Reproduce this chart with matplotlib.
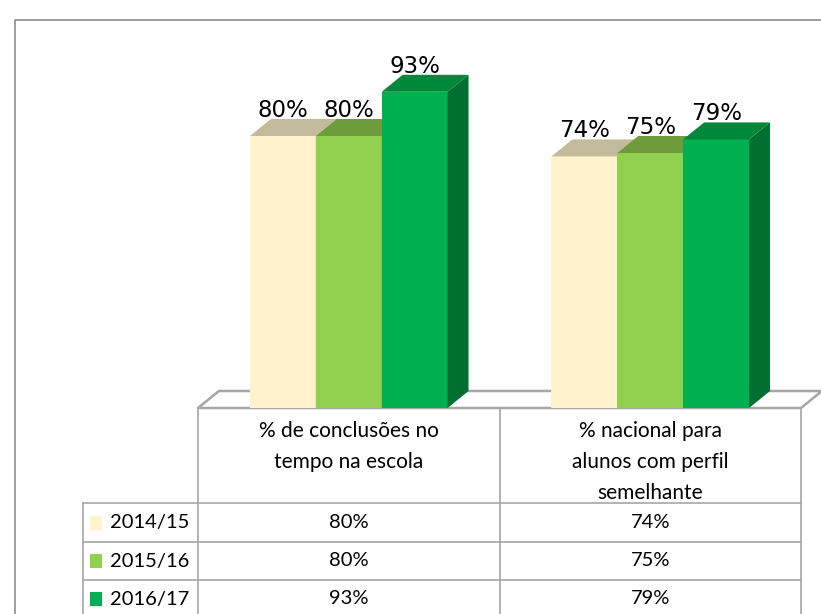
import matplotlib
matplotlib.use('Agg')
import numpy as np
import matplotlib.pyplot as plt
from matplotlib.patches import Polygon, Rectangle

# --- data ---
categories = ['% de conclusões no\ntempo na escola',
              '% nacional para\nalunos com perfil\nsemelhante']
years = ['2014/15', '2015/16', '2016/17']
v_2014 = [80, 74]
v_2015 = [80, 75]
v_2016 = [93, 79]
series = [v_2014, v_2015, v_2016]

# --- styles ---
front_cols = ['#FFF2CC', '#92D050', '#00B050']
top_cols = ['#C4BA9C', '#6E9C3C', '#00883A']
side_cols = ['#BFB596', '#6A9A3A', '#006F30']
grey = '#A6A6A6'
lab_font = 'DejaVu Sans'
tab_font = 'Lato'

W = 0.2185          # bar width (category units)
DX = 21 / 302       # depth offset in x (category units)
DY = 5.0            # depth offset in y (percent units)

fig = plt.figure(figsize=(8.21, 6.14), dpi=100)

# layout layer in pixel coordinates: frame + data table
lay = fig.add_axes([0, 0, 1, 1], zorder=0)
lay.set_xlim(0, 821)
lay.set_ylim(614, 0)
lay.axis('off')

lay.plot([15, 15, 821], [640, 20, 20], color='#8C8C8C', lw=1.2, clip_on=False)

# main bar axes
ax = fig.add_axes([198 / 821, 206 / 614, 603 / 821, 340 / 614], zorder=1)
ax.set_xlim(-0.5, 1.5)
ax.set_ylim(0, 100)
ax.axis('off')
ax.patch.set_alpha(0)

x = np.arange(len(categories))

# floor
floor = Polygon([(-0.5, 0), (1.5, 0), (1.5 + DX, DY), (-0.5 + DX, DY)],
                closed=True, facecolor='white', edgecolor=grey, lw=1.8,
                clip_on=False, zorder=1)
ax.add_patch(floor)

for i, vals in enumerate(series):
    xs = x + (i - 1) * W
    ax.bar(xs, vals, width=W, color=front_cols[i], zorder=2, clip_on=False)
    for xc, h in zip(xs, vals):
        x0, x1 = xc - W / 2, xc + W / 2
        ax.add_patch(Polygon([(x1, 0), (x1 + DX, DY), (x1 + DX, h + DY), (x1, h)],
                             closed=True, facecolor=side_cols[i], lw=0,
                             zorder=2, clip_on=False))
        ax.add_patch(Polygon([(x0, h), (x1, h), (x1 + DX, h + DY), (x0 + DX, h + DY)],
                             closed=True, facecolor=top_cols[i], lw=0,
                             zorder=2, clip_on=False))
        ax.text(xc, h + DY + 0.6, f'{h}%', ha='center', va='baseline',
                fontsize=16.5, family=lab_font, color='black', zorder=3)

# --- data table (pixel layout) ---
col_x = [198, 500, 801]
lab_x = 83
row_y = [408, 503, 542, 580, 618]
lc = dict(color=grey, lw=1.2, clip_on=False)

lay.plot([col_x[0], col_x[-1]], [row_y[0], row_y[0]], **lc)
for yy in row_y[1:]:
    lay.plot([lab_x, col_x[-1]], [yy, yy], **lc)
for xx in col_x:
    lay.plot([xx, xx], [row_y[0], 640], **lc)
lay.plot([lab_x, lab_x], [row_y[1], 640], **lc)

for j, cat in enumerate(categories):
    cx = (col_x[j] + col_x[j + 1]) / 2
    lay.text(cx, 421, cat, ha='center', va='top', fontsize=15,
             family=tab_font, linespacing=1.68)

for i, (yr, vals) in enumerate(zip(years, series)):
    cy = (row_y[i + 1] + row_y[i + 2]) / 2
    lay.add_patch(Rectangle((90, cy - 7), 12, 14, facecolor=front_cols[i], lw=0))
    lay.text(110, cy, yr, ha='left', va='center', fontsize=14.5, family=tab_font)
    for j, v in enumerate(vals):
        cx = (col_x[j] + col_x[j + 1]) / 2
        lay.text(cx, cy, f'{v}%', ha='center', va='center', fontsize=14.5,
                 family=tab_font)

fig.savefig('out.png', dpi=100)
